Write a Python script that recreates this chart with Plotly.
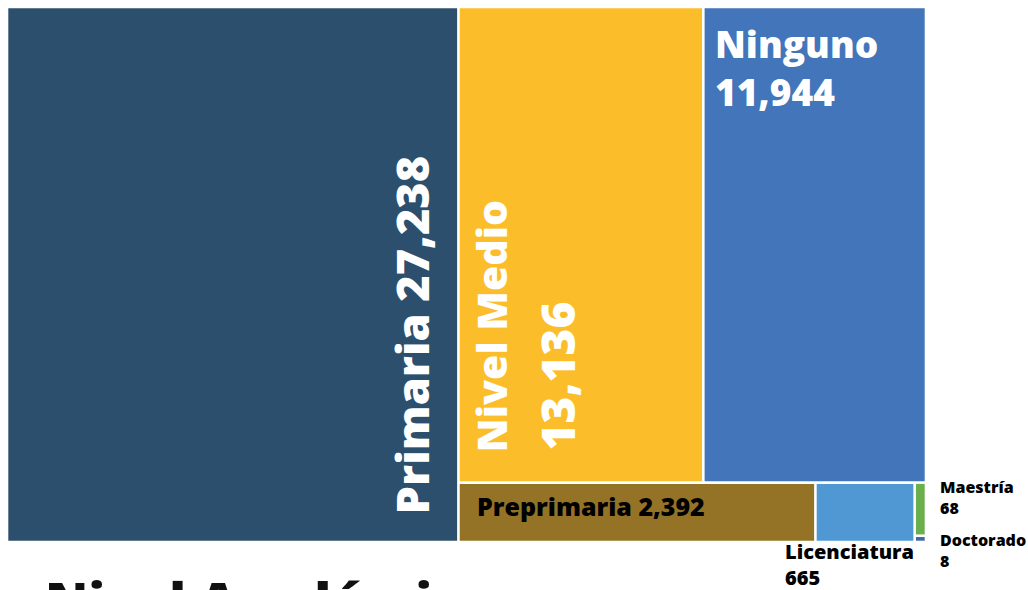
import plotly.graph_objects as go

# ---- data ----
categories = ["Primaria", "Nivel Medio", "Ninguno", "Preprimaria", "Licenciatura", "Maestría", "Doctorado"]
values = [27238, 13136, 11944, 2392, 665, 68, 8]
colors = ["#2C4F6D", "#FCBD2B", "#4275B9", "#957326", "#4F98D4", "#6AAF4E", "#3F67A6"]
title_text = "Nivel Académico"

# ---- layout frame (pixels == data units) ----
W, H = 919, 535
OX, OY = 7, 7
FW, FH = 1028, 590
RATIO = (1 + 5 ** 0.5) / 2


def squarify(vals, x0, y0, x1, y1, ratio):
    rects = [None] * len(vals)
    n = len(vals)
    i0 = 0
    value = float(sum(vals))
    while i0 < n:
        dx, dy = x1 - x0, y1 - y0
        i1 = i0
        sumv = vals[i1]
        i1 += 1
        minv = maxv = sumv
        alpha = max(dy / dx, dx / dy) / (value * ratio)
        beta = sumv * sumv * alpha
        minratio = max(maxv / beta, beta / minv)
        while i1 < n:
            v = vals[i1]
            sumv += v
            minv = min(minv, v)
            maxv = max(maxv, v)
            beta = sumv * sumv * alpha
            newratio = max(maxv / beta, beta / minv)
            if newratio > minratio:
                sumv -= v
                break
            minratio = newratio
            i1 += 1
        if dx < dy:
            ry1 = y0 + dy * sumv / value
            xx = x0
            for k in range(i0, i1):
                w = dx * vals[k] / sumv
                rects[k] = (xx, y0, xx + w, ry1)
                xx += w
            y0 = ry1
        else:
            rx1 = x0 + dx * sumv / value
            yy = y0
            for k in range(i0, i1):
                h = dy * vals[k] / sumv
                rects[k] = (x0, yy, rx1, yy + h)
                yy += h
            x0 = rx1
        value -= sumv
        i0 = i1
    return rects


rects = squarify(values, 0, 0, W, H, RATIO)
GAP = 1.3

fig = go.Figure()
for cat, val, col, (a, b, c, d) in zip(categories, values, colors, rects):
    xa, xb, ya, yb = a + GAP, c - GAP, b + GAP, d - GAP
    if xb <= xa:
        xa = xb = (a + c) / 2
    if yb <= ya:
        ya = yb = (b + d) / 2
    fig.add_trace(go.Scatter(
        x=[xa, xb, xb, xa, xa], y=[ya, ya, yb, yb, ya],
        fill="toself", fillcolor=col, mode="lines", line=dict(width=0),
        name=cat, hovertemplate=f"{cat}: {val:,}<extra></extra>", showlegend=False))

FONT = "Open Sans"


def fnt(size, color):
    return dict(family=FONT, size=size, color=color, weight=800)


def fmt(v):
    return f"{v:,}"


R = dict(zip(categories, rects))
ann = []

# Primaria (rotated, one line)
r = R["Primaria"]
ann.append(dict(x=r[2] - 47, y=r[3] - 26, text=f"Primaria {fmt(values[0])}", textangle=-90,
                xanchor="center", yanchor="bottom", font=fnt(45, "white")))
# Nivel Medio (rotated, two lines)
r = R["Nivel Medio"]
ann.append(dict(x=r[0] + 33, y=r[3] - 28, text="Nivel Medio", textangle=-90,
                xanchor="center", yanchor="bottom", font=fnt(41, "white")))
ann.append(dict(x=r[0] + 99, y=r[3] - 30, text=fmt(values[1]), textangle=-90,
                xanchor="center", yanchor="bottom", font=fnt(46, "white")))
# Ninguno (two lines)
r = R["Ninguno"]
ann.append(dict(x=r[0] + 10, y=r[1] + 60, text=f"Ninguno<br>{fmt(values[2])}", align="left",
                xanchor="left", yanchor="middle", font=fnt(37, "white")))
# Preprimaria
r = R["Preprimaria"]
ann.append(dict(x=r[0] + 17, y=(r[1] + r[3]) / 2 - 6, text=f"Preprimaria {fmt(values[3])}",
                xanchor="left", yanchor="middle", font=fnt(25, "black")))
# Licenciatura (outside, below)
r = R["Licenciatura"]
ann.append(dict(x=r[2] + 1, y=r[3] - 6, text=f"Licenciatura<br>{fmt(values[4])}", align="left",
                xanchor="right", yanchor="top", font=fnt(20, "black")))
# Maestría / Doctorado (outside, right)
r = R["Maestría"]
ann.append(dict(x=r[2] + 12, y=r[1] - 9, text=f"Maestría<br>{fmt(values[5])}", align="left",
                xanchor="left", yanchor="top", font=fnt(16, "black")))
r = R["Doctorado"]
ann.append(dict(x=R["Maestría"][2] + 12, y=r[1] - 9, text=f"Doctorado<br>{fmt(values[6])}", align="left",
                xanchor="left", yanchor="top", font=fnt(16, "black")))
# Title (cut off at bottom)
ann.append(dict(x=36, y=H + 20, text=title_text, xanchor="left", yanchor="top",
                font=fnt(52, "#111111")))

for a in ann:
    a.update(xref="x", yref="y", showarrow=False)

fig.update_layout(
    width=FW, height=FH,
    margin=dict(l=0, r=0, t=0, b=0),
    paper_bgcolor="white", plot_bgcolor="white",
    xaxis=dict(range=[-OX, FW - OX], visible=False, fixedrange=True),
    yaxis=dict(range=[FH - OY, -OY], visible=False, fixedrange=True),
    annotations=ann,
    showlegend=False,
)

fig.write_html("out.html", config=dict(displayModeBar=False),
               post_script="document.body.style.margin='0';document.body.style.overflow='hidden';")
